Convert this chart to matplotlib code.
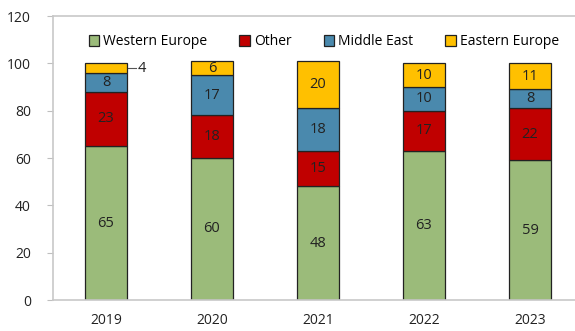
import numpy as np
import matplotlib.pyplot as plt
from matplotlib.patches import Patch

plt.rcParams['font.family'] = ['Open Sans', 'DejaVu Sans']

years = ["2019", "2020", "2021", "2022", "2023"]
western_europe = [65, 60, 48, 63, 59]
other = [23, 18, 15, 17, 22]
middle_east = [8, 17, 18, 10, 8]
eastern_europe = [4, 6, 20, 10, 11]

series = [("Western Europe", western_europe, "#9bbb7a"),
          ("Other", other, "#c00000"),
          ("Middle East", middle_east, "#4a89ad"),
          ("Eastern Europe", eastern_europe, "#ffc000")]

fig = plt.figure(figsize=(5.75, 3.31), dpi=100)
ax = fig.add_axes([53/575, 31/331, 530/575, 284/331])

x = np.arange(len(years))
bottom = np.zeros(len(years))
for name, vals, col in series:
    vals = np.array(vals, dtype=float)
    ax.bar(x, vals, 0.4, bottom=bottom, color=col, edgecolor="#222222", linewidth=0.9, zorder=2)
    for i, v in enumerate(vals):
        if v < 5:
            # too thin for an inside label, put it to the right with a leader line
            yc = bottom[i] + v/2
            ax.plot([x[i]+0.21, x[i]+0.28], [yc, yc], color="#555555", lw=0.8, clip_on=False)
            ax.text(x[i]+0.30, yc, "%d" % v, ha="left", va="center", fontsize=10.5, color="#222222")
        else:
            ax.text(x[i], bottom[i] + v/2, "%d" % v, ha="center", va="center", fontsize=10.5, color="#222222")
    bottom += vals

ax.set_xlim(-0.5, 4.5)
ax.set_ylim(0, 120)
ax.set_yticks(range(0, 121, 20))
ax.set_xticks(x)
ax.set_xticklabels(years)
ax.tick_params(axis="y", length=4, color="#bfbfbf", labelsize=10, pad=12, labelcolor="#222222")
ax.tick_params(axis="x", length=0, labelsize=10, pad=9, labelcolor="#222222")
for s in ["left", "top", "bottom", "right"]:
    ax.spines[s].set_color("#c8c8c8")
    ax.spines[s].set_linewidth(1.2)

handles = [Patch(facecolor=c, edgecolor="#222222", linewidth=0.9, label=n) for n, _, c in series]
ax.legend(handles=handles, loc="upper center", bbox_to_anchor=(0.511, 0.955), ncol=4, frameon=False,
          fontsize=10, handlelength=0.75, handleheight=0.75, handletextpad=0.3, columnspacing=2.3,
          borderaxespad=0)

fig.savefig("out.png", dpi=100)
